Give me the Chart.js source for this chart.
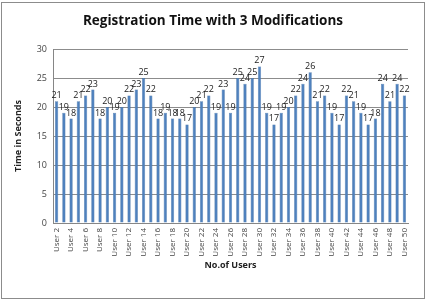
<!DOCTYPE html>
<html>
<head>
<meta charset="utf-8">
<script src="https://cdn.jsdelivr.net/npm/chart.js@4"></script>
<style>
  body { margin: 0; background: #fff; }
  #chart { display: block; }
</style>
</head>
<body>
<canvas id="chart" width="427" height="302"></canvas>
<script>
// users 2..50, one bar each
const users = [];
for (let i = 2; i <= 50; i++) users.push("User " + i);

const regTimes = [21, 19, 18, 21, 22, 23, 18, 20, 19, 20,
                  22, 23, 25, 22, 18, 19, 18, 18, 17, 20,
                  21, 22, 19, 23, 19, 25, 24, 25, 27, 19,
                  17, 19, 20, 22, 24, 26, 21, 22, 19, 17,
                  22, 21, 19, 17, 18, 24, 21, 24, 22];

const yTicks = [0, 5, 10, 15, 20, 25, 30];

const chartTitle = "Registration Time with 3 Modifications";

const FONT = "'Open Sans', 'Liberation Sans', sans-serif";

// value labels above the bars
const barLabels = {
  id: "barLabels",
  afterDatasetsDraw(chart) {
    const ctx = chart.ctx;
    const meta = chart.getDatasetMeta(0);
    ctx.save();
    ctx.font = "9px " + FONT;
    ctx.fillStyle = "#222";
    ctx.textAlign = "center";
    ctx.textBaseline = "bottom";
    meta.data.forEach((bar, i) => {
      ctx.fillText(regTimes[i], bar.x, bar.y - 1);
    });
    ctx.restore();
  }
};

// white background, outer frame and the title
const frame = {
  id: "frame",
  beforeDraw(chart) {
    const ctx = chart.ctx;
    ctx.save();
    ctx.fillStyle = "#fff";
    ctx.fillRect(0, 0, chart.width, chart.height);
    ctx.strokeStyle = "#8c8c8c";
    ctx.lineWidth = 1;
    ctx.strokeRect(1.5, 2.5, 423, 296);
    ctx.fillStyle = "#111";
    ctx.font = "bold 13.5px " + FONT;
    ctx.textAlign = "center";
    ctx.textBaseline = "middle";
    ctx.fillText(chartTitle, 213, 21);
    ctx.restore();
  }
};

new Chart(document.getElementById("chart"), {
  type: "bar",
  data: {
    labels: users,
    datasets: [{
      data: regTimes,
      backgroundColor: "#4f81bd",
      borderColor: "#3b6aa0",
      borderWidth: 0.5,
      barPercentage: 0.45,
      categoryPercentage: 1.0
    }]
  },
  options: {
    responsive: false,
    animation: false,
    layout: { padding: { top: 49, right: 19, bottom: 9, left: 0 } },
    plugins: {
      legend: { display: false },
      tooltip: { enabled: false },
      title: { display: false }
    },
    scales: {
      x: {
        grid: { display: false, drawTicks: false },
        border: { color: "#868686" },
        ticks: {
          autoSkip: false,
          minRotation: 90,
          maxRotation: 90,
          padding: 5,
          color: "#444",
          font: { family: FONT, size: 8 },
          callback: function (val, idx) {
            return idx % 2 === 0 ? users[idx] : "";
          }
        },
        title: {
          display: true,
          text: "No.of Users",
          color: "#222",
          font: { family: FONT, size: 9, weight: "bold" },
          padding: { top: 0, bottom: 22 }
        },
        afterFit(scale) { scale.height = 70; }
      },
      y: {
        min: 0,
        max: 30,
        afterBuildTicks(scale) { scale.ticks = yTicks.map(v => ({ value: v })); },
        grid: { color: "#8c8c8c", drawTicks: false },
        border: { color: "#868686" },
        ticks: {
          padding: 6,
          color: "#444",
          font: { family: FONT, size: 9 }
        },
        title: {
          display: true,
          text: "Time in Seconds",
          color: "#222",
          font: { family: FONT, size: 9, weight: "bold" },
          padding: { top: 13, bottom: 0 }
        },
        afterFit(scale) { scale.width = 53; }
      }
    }
  },
  plugins: [frame, barLabels]
});
</script>
</body>
</html>
